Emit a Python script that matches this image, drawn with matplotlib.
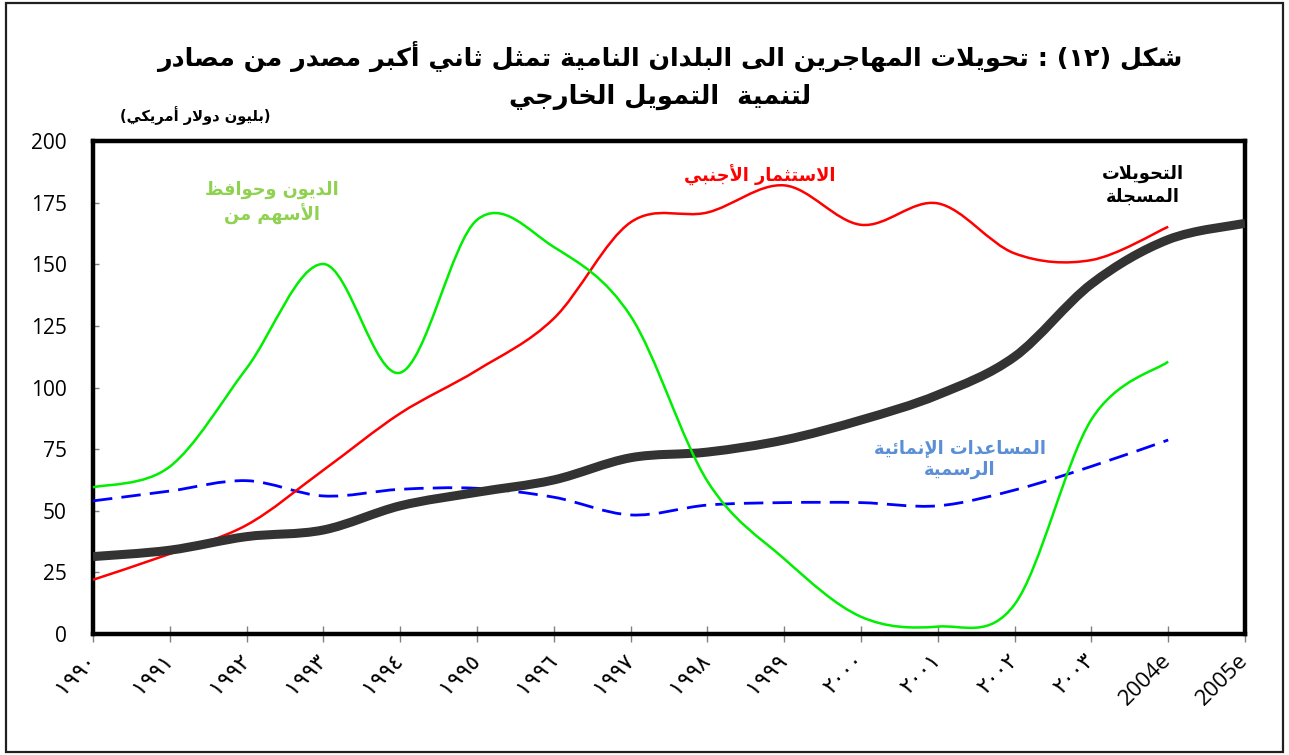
import re
import matplotlib
matplotlib.use('Agg')
import matplotlib.pyplot as plt
from matplotlib.path import Path
from matplotlib.patches import PathPatch, Rectangle

# ---------------- data ----------------
years = ['١٩٩٠', '١٩٩١', '١٩٩٢', '١٩٩٣', '١٩٩٤', '١٩٩٥', '١٩٩٦', '١٩٩٧',
         '١٩٩٨', '١٩٩٩', '٢٠٠٠', '٢٠٠١', '٢٠٠٢', '٢٠٠٣', '2004e', '2005e']
remittances = [31.4, 34.0, 39.5, 42.2, 52.0, 57.5, 62.5, 71.5, 73.8, 78.7,
               86.8, 97.0, 112.5, 142.0, 160.0, 166.6]
fdi = [22.0, 32.5, 44.2, 66.5, 89.5, 107.0, 128.0, 167.0, 171.0, 182.0,
       166.0, 174.7, 154.4, 151.7, 165.2]
debt_equity = [59.5, 67.9, 107.8, 150.1, 106.0, 168.0, 157.0, 129.0, 62.0,
               30.5, 7.0, 3.0, 12.0, 87.0, 110.5]
oda = [54.0, 58.0, 62.2, 56.0, 58.7, 59.1, 55.5, 48.3, 52.3, 53.3, 53.3,
       52.0, 58.4, 68.0, 78.7]
yticks = [0, 25, 50, 75, 100, 125, 150, 175, 200]

title1 = 'شكل (١٢) : تحويلات المهاجرين الى البلدان النامية تمثل ثاني أكبر مصدر من مصادر'
title2 = 'لتنمية  التمويل الخارجي'
unit_label = '(بليون دولار أمريكي)'
lbl_debt = ['الديون وحوافظ', 'الأسهم من']
lbl_fdi = ['الاستثمار الأجنبي']
lbl_rem = ['التحويلات', 'المسجلة']
lbl_oda = ['المساعدات الإنمائية', 'الرسمية']

# ------------- minimal Arabic shaping (presentation forms) -------------
_counts = [(0x0621, 1), (0x0622, 2), (0x0623, 2), (0x0624, 2), (0x0625, 2),
           (0x0626, 4), (0x0627, 2), (0x0628, 4), (0x0629, 2), (0x062A, 4),
           (0x062B, 4), (0x062C, 4), (0x062D, 4), (0x062E, 4), (0x062F, 2),
           (0x0630, 2), (0x0631, 2), (0x0632, 2), (0x0633, 4), (0x0634, 4),
           (0x0635, 4), (0x0636, 4), (0x0637, 4), (0x0638, 4), (0x0639, 4),
           (0x063A, 4), (0x0641, 4), (0x0642, 4), (0x0643, 4), (0x0644, 4),
           (0x0645, 4), (0x0646, 4), (0x0647, 4), (0x0648, 2), (0x0649, 2),
           (0x064A, 4)]
FORMS = {}
_cp = 0xFE80
for base, n in _counts:
    FORMS[chr(base)] = [chr(_cp + k) for k in range(n)]
    _cp += n
LAMALEF = {'\u0622': ('\uFEF5', '\uFEF6'), '\u0623': ('\uFEF7', '\uFEF8'),
           '\u0625': ('\uFEF9', '\uFEFA'), '\u0627': ('\uFEFB', '\uFEFC')}


def shape(s):
    toks = []
    i = 0
    while i < len(s):
        c = s[i]
        if c == '\u0644' and i + 1 < len(s) and s[i + 1] in LAMALEF:
            toks.append(list(LAMALEF[s[i + 1]]))
            i += 2
            continue
        toks.append(FORMS.get(c, c))
        i += 1
    out = []
    for k, t in enumerate(toks):
        if isinstance(t, str):
            out.append(t)
            continue
        prev = toks[k - 1] if k > 0 else None
        nxt = toks[k + 1] if k + 1 < len(toks) else None
        jp = isinstance(prev, list) and len(prev) == 4 and len(t) >= 2
        jn = len(t) == 4 and isinstance(nxt, list) and len(nxt) >= 2
        if jp and jn:
            out.append(t[3])
        elif jp:
            out.append(t[1])
        elif jn:
            out.append(t[2])
        else:
            out.append(t[0])
    shaped = ''.join(out)
    parts = re.findall(r'[0-9\u0660-\u0669]+|.', shaped)
    mirror = {'(': ')', ')': '('}
    return ''.join(mirror.get(p, p) for p in reversed(parts))


# ---------------- figure ----------------
W, H = 1289, 755
fig = plt.figure(figsize=(W / 100, H / 100), dpi=100)
fig.patch.set_facecolor('white')
fig.add_artist(Rectangle((6 / W, 3 / H), 1277 / W, 749 / H, transform=fig.transFigure,
                         fill=False, edgecolor='#202020', lw=1.6))

ax = fig.add_axes([93 / W, 1 - 634 / H, (1245 - 93) / W, (634 - 141) / H])
ax.set_xlim(0, len(years) - 1)
ax.set_ylim(0, 200)
for sp in ax.spines.values():
    sp.set_linewidth(3.2)
    sp.set_color('black')

AR = ['DejaVu Sans']
NUM = ['Open Sans', 'DejaVu Sans']


def smooth_path(ys):
    pts = [(float(i), float(v)) for i, v in enumerate(ys)]
    n = len(pts)
    verts = [pts[0]]
    codes = [Path.MOVETO]
    for i in range(n - 1):
        p0 = pts[i - 1] if i > 0 else pts[i]
        p1, p2 = pts[i], pts[i + 1]
        p3 = pts[i + 2] if i + 2 < n else pts[i + 1]
        c1 = (p1[0] + (p2[0] - p0[0]) / 6, p1[1] + (p2[1] - p0[1]) / 6)
        c2 = (p2[0] - (p3[0] - p1[0]) / 6, p2[1] - (p3[1] - p1[1]) / 6)
        verts += [c1, c2, p2]
        codes += [Path.CURVE4] * 3
    return Path(verts, codes)


def add_series(vals, color, lw, ls='solid', z=3):
    ax.add_patch(PathPatch(smooth_path(vals), facecolor='none', edgecolor=color,
                           lw=lw, linestyle=ls, capstyle='butt', joinstyle='round',
                           zorder=z))


add_series(oda, '#0000FF', 2.0, (0, (7, 3.3)), z=3)
add_series(fdi, '#FF0000', 1.8, z=3.2)
add_series(remittances, '#333333', 6.5, z=3.4)
add_series(debt_equity, '#00EE00', 1.8, z=3.6)

# ticks
ax.set_yticks(yticks)
ax.set_yticklabels([str(v) for v in yticks], fontsize=15, family=NUM)
ax.tick_params(axis='y', direction='in', length=4, width=1, color='#808080', pad=19)
ax.set_xticks(range(len(years)))
ax.set_xticklabels(years, fontsize=16, family=NUM, rotation=45, ha='right',
                   va='center', rotation_mode='anchor')
ax.tick_params(axis='x', direction='inout', length=11.5, width=1, color='#808080', pad=11)

# titles
fig.text(670 / W, 1 - 56 / H, shape(title1), family=AR, fontsize=18.3, fontweight='bold',
         ha='center', va='center')
fig.text(660 / W, 1 - 97 / H, shape(title2), family=AR, fontsize=18.5, fontweight='bold',
         ha='center', va='center')
fig.text(195 / W, 1 - 116 / H, shape(unit_label), family=AR, fontsize=10.5,
         fontweight='bold', ha='center', va='center')


def label(lines, x, y, color):
    ax.text(x, y, '\n'.join(shape(l) for l in lines), family=AR, fontsize=12.8,
            fontweight='bold', color=color, ha='center', va='center',
            multialignment='center', linespacing=1.3, zorder=5)


label(lbl_debt, 2.33, 175, '#8FD150')
label(lbl_fdi, 8.68, 186, '#FF0000')
label(lbl_rem, 13.67, 182, '#000000')
label(lbl_oda, 11.29, 71, '#5A8FD6')

fig.savefig('out.png', dpi=100, facecolor='white')
